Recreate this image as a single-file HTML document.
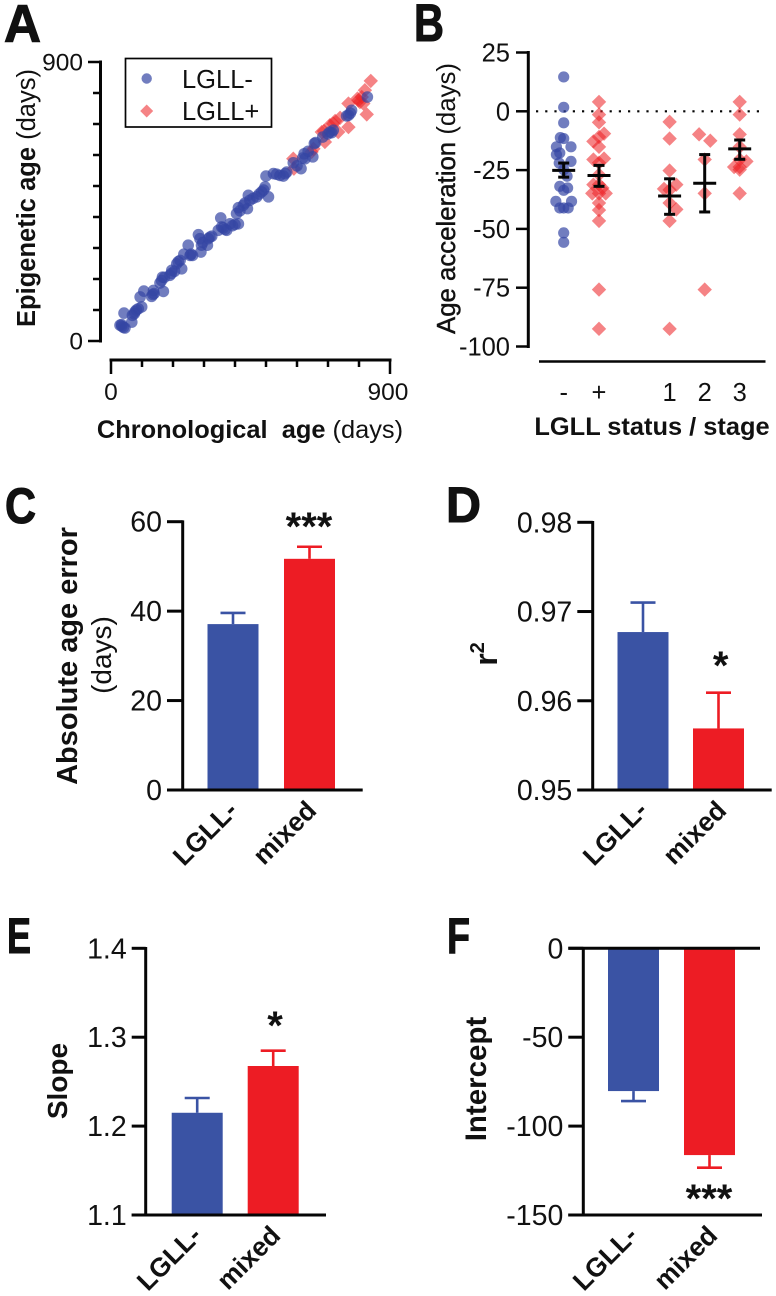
<!DOCTYPE html>
<html lang="en">
<head>
<meta charset="utf-8">
<title>Epigenetic age in LGLL panels</title>
<style>
html,body{margin:0;padding:0;background:#fff;width:776px;height:1296px;overflow:hidden}
svg{display:block;filter:blur(0.35px)}
text{font-family:"Liberation Sans",sans-serif;fill:#111}
</style>
</head>
<body>
<svg id="figure" xmlns="http://www.w3.org/2000/svg" width="776" height="1296" viewBox="0 0 776 1296"></svg>
<script>
// ---------- Panel A data ----------
const negChronological = [34,45,42,29,67,69,77,88,99,94,106,131,139,137,169,158,166,190,196,212,228,223,235,249,255,263,282,287,292,290,311,319,314,346,354,357,373,384,400,411,405,411,427,440,443,448,470,486,497,508,500,524,534,556,567,588,613,623,626,651,656,683,706,717,766,776,827,40,35,75,82,135,163,172,195,205,217,258,296,325,362,368,392,416,432,458,478,492,545,562,600,618,636,660,700,712,760,772];
const negEpigenetic = [53,42,90,51,61,83,94,104,110,142,161,144,153,163,160,187,206,212,228,249,233,260,280,309,276,276,343,330,309,287,309,335,330,357,397,368,357,378,376,378,411,430,438,427,470,454,465,481,497,465,532,540,538,532,545,575,556,604,588,594,637,658,674,680,728,744,787,44,48,88,100,150,195,205,218,225,256,280,318,338,365,360,372,420,445,460,474,487,534,540,565,590,612,640,668,672,726,735];
const posChronological = [590,588,647,653,690,680,687,717,733,739,766,766,798,803,809,795,825,819,838,706,723,814];
const posEpigenetic = [556,588,610,620,642,674,677,701,674,720,690,766,776,771,787,782,731,809,839,696,710,766];
const scatterTicks = [0,100,200,300,400,500,600,700,800,900];
const scatterTickLabels = ['0','','','','','','','','','900'];

// ---------- Panel B data ----------
const swarmCategories = ['-','+','1','2','3'];
const swarmValues = [
  [14.6,1.7,-4.9,-11.6,-11.2,-15.1,-15.1,-18.4,-17.7,-21.3,-22,-24.8,-27.6,-31.9,-32.6,-33.6,-38.3,-38.3,-41.1,-41.1,-41.1,-51.7,-55.7],
  [4,-1.4,-4.7,-9.5,-10.9,-12.8,-15.1,-20.5,-20.1,-21.9,-26.9,-31.2,-31.2,-32.6,-34.9,-34.9,-34.9,-39,-42,-46.6,-75.8,-92.5],
  [-4.5,-11.6,-25.2,-31.2,-33,-33.4,-39,-41.7,-46.6,-92.5],
  [-9.8,-12.5,-20.5,-34.9,-75.8],
  [4,-1.4,-9.8,-15.1,-20.5,-21.3,-23.7,-23.7,-24.8,-34.9]
];
const swarmSlots = [
  [0,0,0,0,-0.6,-1.3,1.3,-1.3,-0.7,1.3,-0.8,0,0.6,-0.7,0.7,0,-1.4,1.4,-0.7,0,0.8,0,0],
  [0,0,0,0.9,0,-1,0,-1,0.9,0,0,-1,0,0.6,-1.2,1.2,0,0,0,0,0,0],
  [0,0,0,1.2,-1,0,0,1.2,0,0],
  [-1,1,0,0,0],
  [0,0,0,0,0,1.2,-1,0,0,0]
];
const swarmMeans = [-25.1,-27.3,-36,-30.6,-16];
const swarmUpper = [-22,-23,-28.7,-18.4,-12.2];
const swarmLower = [-28,-31.9,-43.8,-42.8,-20.4];
const swarmTicks = [25,0,-25,-50,-75,-100];

// ---------- Bar panels data ----------
const barCategories = ['LGLL-','mixed'];
const errorValues = [37.1,51.7];
const errorErrTops = [39.6,54.4];
const errorTicks = [0,20,40,60];
const r2Values = [0.9677,0.9569];
const r2ErrTops = [0.971,0.9609];
const r2Ticks = [0.95,0.96,0.97,0.98];
const slopeValues = [1.215,1.2676];
const slopeErrTops = [1.2316,1.2848];
const slopeTicks = [1.1,1.2,1.3,1.4];
const interceptValues = [-80.3,-116.3];
const interceptErrEnds = [-85.9,-123.4];
const interceptTicks = [-150,-100,-50,0];

const BLUE = '#3a53a4', RED = '#ed1c24', BLACK = '#050505';
const svg = document.getElementById('figure');
const NS = 'http://www.w3.org/2000/svg';

function make(tag, attrs, parent, content) {
  const node = document.createElementNS(NS, tag);
  for (const k in attrs) node.setAttribute(k, attrs[k]);
  if (content !== undefined) node.textContent = content;
  (parent || svg).appendChild(node);
  return node;
}
function line(parent, x1, y1, x2, y2, name, color, width) {
  const l = make('line', {x1, y1, x2, y2, stroke: color || BLACK, 'stroke-width': width || 3}, parent);
  
  
  return l;
}
function label(parent, str, x, y, size, name, opts) {
  const o = opts || {};
  const attrs = {x, y, 'font-size': size, 'text-anchor': o.anchor || 'middle', 'font-weight': o.weight || 'normal'};
  if (o.rotate !== undefined) attrs.transform = 'rotate(' + o.rotate + ' ' + x + ' ' + y + ')';
  if (o.fit) { attrs.textLength = o.fit; attrs.lengthAdjust = 'spacingAndGlyphs'; }
  const t = make('text', attrs, parent, str);
  
  
  return t;
}
function group(name) {
  const g = make('g', {});
  
  
  return g;
}
function linear(d0, d1, r0, r1) {
  return v => r0 + (v - d0) * (r1 - r0) / (d1 - d0);
}
function circleMark(parent, cx, cy, r, name) {
  const c = make('circle', {cx, cy, r, fill: '#3446a4', 'fill-opacity': 0.7}, parent);
  
  
  return c;
}
function diamondMark(parent, cx, cy, h, name) {
  const pts = [[cx, cy - h], [cx + h, cy], [cx, cy + h], [cx - h, cy]].map(p => p.join(',')).join(' ');
  const d = make('polygon', {points: pts, fill: '#ee2226', 'fill-opacity': 0.56}, parent);
  
  
  return d;
}

// ---------- Panel letters ----------
const letters = [['A',4,42,53,37],['B',414,41,53,30],['C',5,523,50,31],['D',446,522,50,35],['E',7,953,50,24],['F',447,953,50,23]];
letters.forEach(item => {
  const t = label(svg, item[0], item[1], item[2], item[3], 'panel-letter-' + item[0].toLowerCase(), {anchor: 'start', weight: 'bold', fit: item[4]});
  t.setAttribute('stroke', '#111');
  t.setAttribute('stroke-width', '1.1');
});

// ---------- Panel A ----------
(function () {
  const g = group('panel-a-scatter');
  const xA = linear(0, 900, 111, 390);
  const yA = linear(0, 900, 341, 62);
  line(g, 100.5, 60.5, 100.5, 342.5, 'y-axis-line');
  scatterTicks.forEach((t, i) => {
    const major = scatterTickLabels[i] !== '';
    line(g, major ? 88 : 93, yA(t), 100.5, yA(t), 'y-axis-tick', BLACK, 2.5);
    if (major) label(g, scatterTickLabels[i], 83, yA(t) + 8.5, 24.5, 'y-tick-label', {anchor: 'end'});
  });
  line(g, 109.5, 360, 391.5, 360, 'x-axis-line');
  scatterTicks.forEach((t, i) => {
    const major = scatterTickLabels[i] !== '';
    line(g, xA(t), 360, xA(t), major ? 374 : 367, 'x-axis-tick', BLACK, 2.5);
    if (major) label(g, scatterTickLabels[i], xA(t) - (t ? 2 : 0), 400, 24.5, 'x-tick-label');
  });
  posChronological.forEach((v, i) => diamondMark(g, xA(v), yA(posEpigenetic[i]), 7.2, 'point-lgll-positive'));
  negChronological.forEach((v, i) => circleMark(g, xA(v), yA(negEpigenetic[i]), 5.8, 'point-lgll-negative'));

  const yTitle = make('text', {'font-size': 25.5, 'text-anchor': 'middle', transform: 'translate(35 198) rotate(-90)'}, g);
  
  
  const yb = make('tspan', {'font-weight': 'bold'}, yTitle, 'Epigenetic age ');
  
  
  const yn = make('tspan', {}, yTitle, '(days)');
  
  

  const xTitle = make('text', {x: 250, y: 438, 'font-size': 25.4, 'text-anchor': 'middle'}, g);
  
  
  const xb = make('tspan', {'font-weight': 'bold'}, xTitle, 'Chronological\u00a0\u00a0age ');
  
  
  const xn = make('tspan', {}, xTitle, '(days)');
  
  

  const legend = make('g', {}, g);
  
  
  const box = make('rect', {x: 125.5, y: 58.5, width: 146, height: 68.5, fill: '#fff', stroke: BLACK, 'stroke-width': 1.7}, legend);
  
  
  circleMark(legend, 146.7, 78.5, 5.2, 'legend-marker-lgll-negative');
  diamondMark(legend, 146.7, 111, 6.5, 'legend-marker-lgll-positive');
  label(legend, 'LGLL-', 182, 88, 25.5, 'legend-entry-lgll-negative', {anchor: 'start'});
  label(legend, 'LGLL+', 182, 120, 25.5, 'legend-entry-lgll-positive', {anchor: 'start'});
})();

// ---------- Panel B ----------
(function () {
  const g = group('panel-b-swarm');
  const yB = linear(25, -100, 52.5, 346.5);
  const categoryCenters = {'-': 563.7, '+': 599, '1': 669.6, '2': 704.7, '3': 739.7};
  const slotWidth = 5.6;
  line(g, 528.3, 51, 528.3, 348, 'y-axis-line');
  swarmTicks.forEach(t => {
    line(g, 516, yB(t), 528.3, yB(t), 'y-axis-tick', BLACK, 2.5);
    label(g, String(t), 510, yB(t) + 9, 25.5, 'y-tick-label', {anchor: 'end'});
  });
  line(g, 539, 361.5, 765.5, 361.5, 'x-axis-line', BLACK, 2.6);
  const zero = line(g, 536, yB(0), 765, yB(0), 'zero-reference-line', BLACK, 2.2);
  zero.setAttribute('stroke-dasharray', '2.2 7');
  swarmCategories.forEach((cat, ci) => {
    const cx = categoryCenters[cat];
    swarmValues[ci].forEach((v, i) => {
      const px = cx + swarmSlots[ci][i] * slotWidth;
      if (ci === 0) circleMark(g, px, yB(v), 5.6, 'point-lgll-negative');
      else diamondMark(g, px, yB(v), 7.2, 'point-lgll-positive-' + cat);
    });
    line(g, cx - 11.5, yB(swarmMeans[ci]), cx + 11.5, yB(swarmMeans[ci]), 'mean-line-' + ci, BLACK, 3);
    line(g, cx, yB(swarmUpper[ci]), cx, yB(swarmLower[ci]), 'error-bar-' + ci, BLACK, 3);
    line(g, cx - 5.5, yB(swarmUpper[ci]), cx + 5.5, yB(swarmUpper[ci]), 'error-cap-upper-' + ci, BLACK, 3);
    line(g, cx - 5.5, yB(swarmLower[ci]), cx + 5.5, yB(swarmLower[ci]), 'error-cap-lower-' + ci, BLACK, 3);
    label(g, cat, cx, 401, 25.5, 'x-tick-label-' + ci);
  });
  const yTitle = make('text', {'font-size': 25.8, 'text-anchor': 'middle', transform: 'translate(455 198.5) rotate(-90)'}, g);
  
  
  const yb = make('tspan', {stroke: '#111', 'stroke-width': 0.45}, yTitle, 'Age acceleration ');
  
  
  const yn = make('tspan', {}, yTitle, '(days)');
  
  
  label(g, 'LGLL status / stage', 652, 435, 25.4, 'x-axis-title', {weight: 'bold'});
})();

// ---------- Bar panels ----------
function barPanel(cfg) {
  const g = group(cfg.name);
  const y = linear(cfg.ticks[0], cfg.ticks[cfg.ticks.length - 1], cfg.yBottom, cfg.yTop);
  const baseY = y(cfg.base);
  cfg.values.forEach((v, i) => {
    const color = i === 0 ? BLUE : RED;
    const x0 = cfg.barX[i];
    const top = Math.min(y(v), baseY);
    const h = Math.abs(y(v) - baseY);
    const r = make('rect', {x: x0, y: top, width: cfg.barW, height: h, fill: color}, g);
    
    
    const c = x0 + cfg.barW / 2;
    line(g, c, y(v), c, y(cfg.errs[i]), 'error-bar-' + i, color, 2.6);
    line(g, c - 12.5, y(cfg.errs[i]), c + 12.5, y(cfg.errs[i]), 'error-cap-' + i, color, 2.6);
    label(g, barCategories[i], cfg.labelX[i], cfg.labelY, 26.5, 'x-tick-label-' + barCategories[i].toLowerCase(), {anchor: 'end', weight: 'bold', rotate: -45});
  });
  line(g, cfg.axisX, cfg.yTop - 1.3, cfg.axisX, cfg.yBottom + 1.3, 'y-axis-line');
  cfg.ticks.forEach((t, i) => {
    line(g, cfg.tickX, y(t), cfg.axisX, y(t), 'y-axis-tick', BLACK, 3);
    label(g, cfg.tickLabels[i], cfg.tickX - 5, y(t) + 10, cfg.tickSize, 'y-tick-label', {anchor: 'end'});
  });
  cfg.xLines.forEach(l => line(g, cfg.tickX, y(l[0]), l[1], y(l[0]), 'x-axis-line', BLACK, 3));
  label(g, cfg.stars, cfg.starX, cfg.starY, 40, 'significance-stars', {weight: 'bold'});
  return g;
}

const panelC = barPanel({name: 'panel-c-absolute-age-error', ticks: errorTicks, tickLabels: errorTicks.map(String), values: errorValues, errs: errorErrTops, base: 0,
  yBottom: 790, yTop: 521.7, axisX: 182.7, tickX: 167, barX: [207.5, 284], barW: 51, labelX: [239, 318], labelY: 812, tickSize: 28.5,
  xLines: [[0, 362.7]], stars: '***', starX: 309, starY: 540});
label(panelC, 'Absolute age error', 77, 656, 29, 'y-axis-title', {weight: 'bold', rotate: -90});
label(panelC, '(days)', 111, 655, 28, 'y-axis-subtitle', {rotate: -90});

const panelD = barPanel({name: 'panel-d-r-squared', ticks: r2Ticks, tickLabels: r2Ticks.map(t => t.toFixed(2)), values: r2Values, errs: r2ErrTops, base: 0.95,
  yBottom: 790, yTop: 522.3, axisX: 592.7, tickX: 577.3, barX: [617.5, 693], barW: 51, labelX: [649, 728], labelY: 812, tickSize: 28.5,
  xLines: [[0.95, 771.7]], stars: '*', starX: 720.7, starY: 679});
const r2 = make('text', {'font-size': 32, 'font-weight': 'bold', 'text-anchor': 'middle', transform: 'translate(497 654) rotate(-90)'}, panelD);


const r2r = make('tspan', {}, r2, 'r');


const r2s = make('tspan', {dy: -13, 'font-size': 20}, r2, '2');



const panelE = barPanel({name: 'panel-e-slope', ticks: slopeTicks, tickLabels: slopeTicks.map(t => t.toFixed(1)), values: slopeValues, errs: slopeErrTops, base: 1.1,
  yBottom: 1215, yTop: 948.3, axisX: 145.7, tickX: 131.7, barX: [171.7, 247.7], barW: 51, labelX: [203, 282], labelY: 1237, tickSize: 28.5,
  xLines: [[1.1, 326]], stars: '*', starX: 275, starY: 1039});
label(panelE, 'Slope', 67, 1081, 28, 'y-axis-title', {weight: 'bold', rotate: -90});

const panelF = barPanel({name: 'panel-f-intercept', ticks: interceptTicks, tickLabels: interceptTicks.map(String), values: interceptValues, errs: interceptErrEnds, base: 0,
  yBottom: 1215, yTop: 948.3, axisX: 583.3, tickX: 568.3, barX: [608, 684], barW: 51, labelX: [639, 719], labelY: 1237, tickSize: 28.5,
  xLines: [[0, 760], [-150, 762]], stars: '***', starX: 709, starY: 1212});
label(panelF, 'Intercept', 486, 1079, 29.5, 'y-axis-title', {weight: 'bold', rotate: -90});
</script>
</body>
</html>
